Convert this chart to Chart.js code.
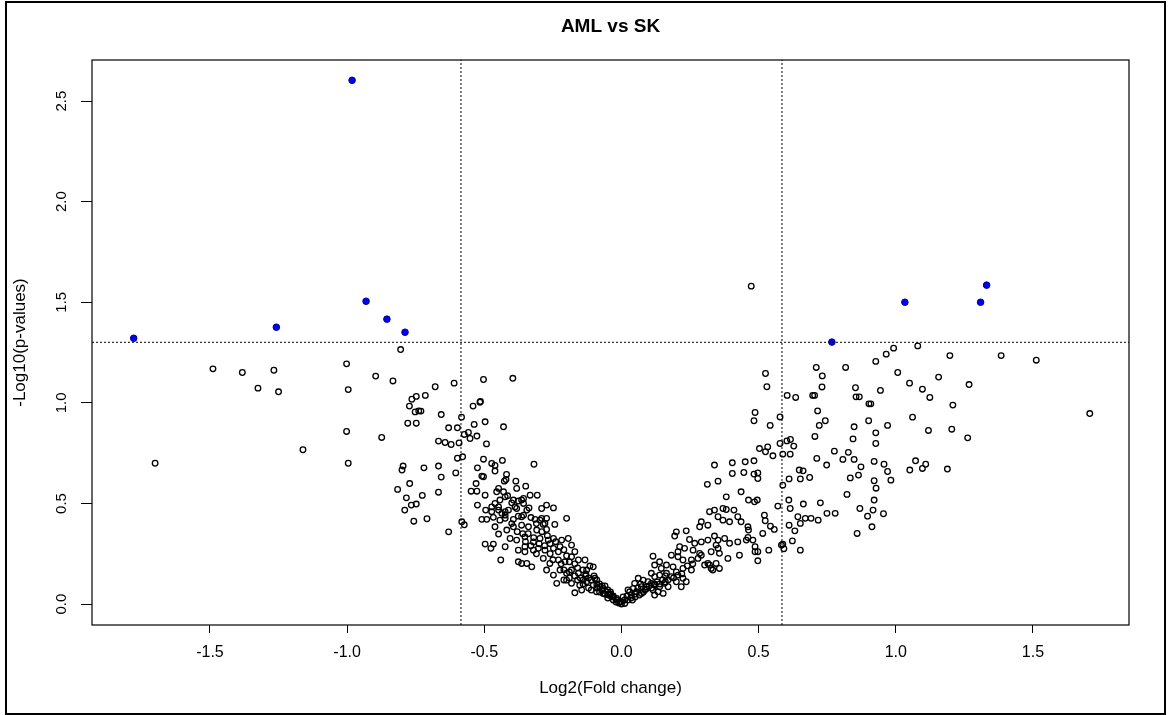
<!DOCTYPE html>
<html><head><meta charset="utf-8">
<script src="https://cdn.jsdelivr.net/npm/chart.js@4.4.1/dist/chart.umd.min.js"></script>
<style>
html,body{margin:0;padding:0;background:#fff;}
#wrap{position:relative;width:1171px;height:715px;overflow:hidden;background:#fff;}
#c{position:absolute;left:0;top:0;}
#frame{position:absolute;left:5px;top:1px;width:1161px;height:714px;border:2px solid #000;box-sizing:border-box;pointer-events:none;}
</style></head><body>
<div id="wrap"><canvas id="c" width="1171" height="715"></canvas><div id="frame"></div></div>
<script>
const chartTitle = 'AML vs SK';
const xTitle = 'Log2(Fold change)';
const yTitle = '-Log10(p-values)';
const xTicks = [-1.5, -1.0, -0.5, 0.0, 0.5, 1.0, 1.5];
const yTicks = [0.0, 0.5, 1.0, 1.5, 2.0, 2.5];
const xLimits = [-1.93, 1.85];
const yLimits = [-0.104, 2.704];
const fcCutoffs = [-0.585, 0.585];
const pCutoff = 1.301;

// significant genes (blue, filled)
const sigPoints = [
[-0.982,2.603],[-1.778,1.321],[-1.258,1.376],[-0.931,1.505],[-0.855,1.416],[-0.789,1.351],
[0.767,1.302],[1.033,1.500],[1.309,1.500],[1.331,1.585]
];

// non-significant genes (open circles), left side sparse
const nsLeftOuter = [
[-1.489,1.169],[-1.382,1.151],[-1.267,1.162],[-1.325,1.073],[-1.250,1.055],[-1.700,0.700],[-1.161,0.767],
[-1.002,1.194],[-0.996,1.066],[-1.002,0.858],[-0.996,0.700],[-0.896,1.133],[-0.833,1.109],[-0.805,1.265],
[-0.874,0.828],[-0.679,1.080],[-0.610,1.098],[-0.503,1.116],[-0.764,1.018],[-0.748,1.032],[-0.715,1.037],
[-0.773,0.984],[-0.752,0.955],[-0.739,0.960],[-0.731,0.959],[-0.657,0.942],[-0.779,0.899],[-0.748,0.899],
[-0.583,0.929],[-0.541,0.984],[-0.514,1.007],[-0.516,1.003],[-0.630,0.876],[-0.598,0.876],[-0.573,0.843],
[-0.558,0.853],[-0.537,0.893],[-0.552,0.823],[-0.527,0.835],[-0.497,0.906],[-0.667,0.810],[-0.643,0.803],
[-0.621,0.793],[-0.592,0.801],[-0.492,0.796],[-0.598,0.725],[-0.579,0.732],[-0.503,0.720],[-0.796,0.686],
[-0.800,0.666],[-0.720,0.677],[-0.667,0.686],[-0.657,0.631],[-0.604,0.652],[-0.525,0.677],[-0.461,0.661],
[-0.473,0.699],[-0.461,0.689],[-0.772,0.599],[-0.816,0.570],[-0.726,0.540],[-0.784,0.528],[-0.667,0.556],
[-0.766,0.492],[-0.748,0.497],[-0.790,0.467],[-0.757,0.412],[-0.709,0.424],[-0.630,0.359],[-0.582,0.409],
[-0.573,0.394],[-0.509,0.636],[-0.503,0.633],[-0.530,0.599],[-0.548,0.561],[-0.527,0.561],[-0.497,0.541],
[-0.525,0.492],[-0.495,0.467],[-0.509,0.421],[-0.491,0.421],[-0.461,0.500],[-0.473,0.483],[-0.497,0.298],
[-0.467,0.298],[-0.476,0.277],[-0.440,0.219],[-0.396,1.122],[-0.430,0.881],[-0.434,0.714]
];

// left arm of the V (dense)
const nsLeftInner = [
[-0.319,0.695],[-0.419,0.644],[-0.427,0.611],[-0.421,0.619],[-0.385,0.611],[-0.382,0.575],[-0.349,0.586],
[-0.448,0.575],[-0.430,0.558],[-0.424,0.533],[-0.415,0.538],[-0.400,0.503],[-0.376,0.512],[-0.357,0.525],
[-0.333,0.541],[-0.307,0.541],[-0.473,0.459],[-0.448,0.467],[-0.424,0.459],[-0.382,0.475],[-0.345,0.467],
[-0.337,0.478],[-0.291,0.475],[-0.273,0.492],[-0.248,0.478],[-0.467,0.431],[-0.443,0.417],[-0.424,0.426],
[-0.394,0.421],[-0.376,0.437],[-0.357,0.442],[-0.315,0.421],[-0.297,0.417],[-0.273,0.426],[-0.243,0.396],
[-0.200,0.426],[-0.461,0.384],[-0.448,0.348],[-0.418,0.368],[-0.394,0.384],[-0.364,0.392],[-0.339,0.384],
[-0.309,0.368],[-0.285,0.396],[-0.273,0.371],[-0.424,0.285],[-0.406,0.326],[-0.382,0.318],[-0.352,0.334],
[-0.321,0.309],[-0.297,0.326],[-0.267,0.318],[-0.248,0.326],[-0.218,0.318],[-0.194,0.326],[-0.376,0.268],
[-0.352,0.260],[-0.321,0.268],[-0.303,0.277],[-0.279,0.268],[-0.248,0.277],[-0.224,0.285],[-0.182,0.293],
[-0.170,0.260],[-0.376,0.210],[-0.345,0.202],[-0.327,0.185],[-0.285,0.227],[-0.261,0.202],[-0.230,0.219],
[-0.206,0.210],[-0.182,0.235],[-0.157,0.219],[-0.133,0.219],[-0.115,0.189],[-0.273,0.169],[-0.248,0.144],
[-0.224,0.169],[-0.200,0.153],[-0.182,0.169],[-0.157,0.153],[-0.127,0.169],[-0.103,0.185],[-0.097,0.128],
[-0.236,0.103],[-0.200,0.119],[-0.182,0.103],[-0.152,0.094],[-0.127,0.111],[-0.103,0.094],[-0.079,0.086],
[-0.170,0.056],[-0.145,0.070],[-0.091,0.061],[-0.067,0.053],[-0.048,0.045],[-0.036,0.036],[-0.018,0.028],
[0.000,0.011],[0.012,0.003],[0.024,0.020],[0.030,0.061],[-0.455,0.558],[-0.443,0.517],[-0.394,0.517],
[-0.364,0.517],[-0.448,0.483],[-0.436,0.451],[-0.412,0.467],[-0.388,0.483],[-0.357,0.500],[-0.424,0.442],
[-0.364,0.434],[-0.291,0.426],[-0.279,0.401],[-0.352,0.285],[-0.364,0.202],
[-0.210,0.120],[-0.190,0.130],[-0.160,0.120],[-0.140,0.100],[-0.120,0.080],[-0.110,0.070],[-0.090,0.080],
[-0.080,0.060],[-0.060,0.050],[-0.050,0.030],[-0.030,0.020],[-0.020,0.010],[-0.010,0.005],[-0.130,0.140],
[-0.110,0.120],[-0.090,0.100],[-0.070,0.070],[-0.060,0.090],[-0.040,0.050],
[-0.330,0.430],[-0.310,0.400],[-0.290,0.360],[-0.270,0.340],[-0.260,0.300],[-0.240,0.310],[-0.230,0.260],
[-0.210,0.270],[-0.200,0.240],[-0.190,0.210],[-0.170,0.200],[-0.160,0.180],[-0.140,0.170],[-0.130,0.150],
[-0.120,0.130],[-0.100,0.140],[-0.090,0.120],[-0.080,0.100],[-0.070,0.090],[-0.050,0.070],[-0.040,0.060],
[-0.030,0.040],[-0.340,0.350],[-0.320,0.330],[-0.300,0.300],[-0.280,0.290],[-0.260,0.250],[-0.250,0.220],
[-0.220,0.200],[-0.210,0.170],[-0.190,0.160],[-0.170,0.140],[-0.150,0.130],[-0.140,0.120],[-0.400,0.400],
[-0.380,0.360],[-0.360,0.350],[-0.350,0.310],[-0.330,0.290],[-0.310,0.250]
];

// right arm of the V (dense)
const nsRightInner = [
[0.339,0.691],[0.404,0.702],[0.451,0.707],[0.483,0.712],[0.404,0.649],[0.446,0.654],[0.483,0.646],
[0.497,0.624],[0.497,0.652],[0.313,0.595],[0.352,0.611],[0.382,0.533],[0.436,0.558],[0.463,0.517],
[0.485,0.508],[0.495,0.517],[0.321,0.459],[0.339,0.467],[0.370,0.475],[0.382,0.470],[0.410,0.467],
[0.352,0.434],[0.370,0.417],[0.394,0.409],[0.424,0.434],[0.436,0.409],[0.291,0.409],[0.285,0.384],
[0.315,0.392],[0.461,0.384],[0.463,0.368],[0.200,0.359],[0.236,0.364],[0.194,0.338],[0.248,0.321],
[0.267,0.302],[0.291,0.309],[0.315,0.318],[0.339,0.338],[0.352,0.318],[0.376,0.326],[0.394,0.302],
[0.424,0.309],[0.455,0.318],[0.461,0.331],[0.479,0.318],[0.487,0.285],[0.497,0.260],[0.212,0.285],
[0.230,0.277],[0.261,0.268],[0.285,0.252],[0.182,0.243],[0.206,0.235],[0.224,0.219],[0.255,0.219],
[0.279,0.227],[0.291,0.243],[0.327,0.260],[0.352,0.277],[0.357,0.252],[0.388,0.227],[0.430,0.243],
[0.345,0.293],[0.206,0.260],[0.115,0.238],[0.121,0.194],[0.139,0.210],[0.145,0.177],[0.164,0.194],
[0.188,0.185],[0.224,0.177],[0.255,0.169],[0.303,0.194],[0.315,0.202],[0.327,0.177],[0.345,0.202],
[0.357,0.177],[0.333,0.169],[0.321,0.194],[0.109,0.153],[0.139,0.144],[0.164,0.153],[0.182,0.136],
[0.206,0.144],[0.224,0.128],[0.200,0.111],[0.236,0.111],[0.218,0.086],[0.121,0.136],[0.061,0.128],
[0.079,0.119],[0.097,0.111],[0.109,0.103],[0.121,0.094],[0.139,0.086],[0.157,0.103],[0.170,0.086],
[0.091,0.086],[0.115,0.070],[0.133,0.061],[0.152,0.053],[0.121,0.045],[0.073,0.086],[0.048,0.103],
[0.043,0.078],[0.055,0.061],[0.073,0.053],[0.024,0.070],[0.036,0.045],[0.006,0.036],[0.012,0.020],
[-0.006,0.011],[0.000,0.000],[-0.018,0.020],[-0.030,0.036],[-0.043,0.045],[-0.055,0.061],[-0.067,0.078],
[0.020,0.040],[0.035,0.030],[0.050,0.050],[0.060,0.080],[0.070,0.100],[0.085,0.070],[0.100,0.090],
[0.130,0.110],[0.150,0.120],[0.160,0.140],
[0.040,0.020],[0.050,0.035],[0.065,0.045],[0.080,0.060],[0.090,0.075],[0.110,0.080],[0.120,0.100],
[0.140,0.100],[0.160,0.110],[0.170,0.120],[0.190,0.130],[0.200,0.160],[0.220,0.150],[0.240,0.190],
[0.260,0.200]
];

// right side sparse
const nsRightOuter = [
[0.473,1.580],[0.525,1.146],[0.530,1.080],[0.487,0.952],[0.483,0.911],[0.542,0.888],[0.578,0.930],
[0.604,1.037],[0.635,1.027],[0.710,1.176],[0.732,1.134],[0.731,1.079],[0.697,1.037],[0.704,1.037],
[0.817,1.176],[0.853,1.075],[0.855,1.030],[0.867,1.030],[0.902,0.995],[0.909,0.995],[0.927,1.206],
[0.965,1.242],[0.992,1.272],[0.944,1.062],[1.080,1.283],[1.007,1.151],[1.050,1.098],[1.097,1.068],
[1.124,1.027],[1.156,1.128],[1.197,1.235],[1.267,1.091],[1.208,0.989],[1.384,1.235],[1.512,1.212],
[1.707,0.947],[0.715,0.960],[0.743,0.911],[0.721,0.888],[0.705,0.833],[0.848,0.881],[0.844,0.821],
[0.901,0.911],[0.927,0.851],[0.927,0.798],[0.970,0.888],[1.061,0.929],[1.119,0.863],[1.204,0.869],
[1.262,0.826],[0.578,0.798],[0.603,0.811],[0.616,0.818],[0.628,0.785],[0.588,0.745],[0.615,0.745],
[0.503,0.773],[0.525,0.757],[0.552,0.737],[0.533,0.781],[0.712,0.724],[0.748,0.691],[0.776,0.760],
[0.827,0.754],[0.807,0.719],[0.848,0.719],[0.873,0.682],[0.957,0.695],[0.921,0.709],[0.970,0.659],
[0.982,0.616],[1.072,0.712],[1.109,0.695],[1.097,0.674],[1.051,0.666],[1.188,0.671],[0.834,0.627],
[0.864,0.641],[0.822,0.545],[0.921,0.613],[0.928,0.576],[0.921,0.517],[0.869,0.475],[0.897,0.437],
[0.917,0.467],[0.955,0.449],[0.859,0.351],[0.913,0.384],[0.611,0.622],[0.652,0.622],[0.686,0.629],
[0.662,0.662],[0.648,0.666],[0.588,0.591],[0.570,0.487],[0.610,0.517],[0.663,0.497],[0.615,0.475],
[0.725,0.503],[0.749,0.451],[0.779,0.451],[0.643,0.434],[0.670,0.426],[0.691,0.426],[0.717,0.417],
[0.652,0.401],[0.611,0.392],[0.632,0.364],[0.623,0.314],[0.588,0.297],[0.592,0.275],[0.652,0.268],
[0.537,0.268],[0.583,0.293],[0.521,0.442],[0.524,0.414],[0.543,0.387],[0.557,0.371],[0.515,0.351],
[0.497,0.215],[0.487,0.260]
];

const FONT = '"Liberation Sans", Arial, Helvetica, sans-serif';
const toXY = arr => arr.map(p => ({x: p[0], y: p[1]}));
const nsAll = [].concat(nsLeftOuter, nsLeftInner, nsRightInner, nsRightOuter);

const cutoffLines = fcCutoffs.map(c => ({
  data: [{x: c, y: yLimits[0]}, {x: c, y: yLimits[1]}],
  showLine: true, borderColor: '#000', borderWidth: 1, borderDash: [2, 2],
  pointRadius: 0, fill: false
}));
cutoffLines.push({
  data: [{x: xLimits[0], y: pCutoff}, {x: xLimits[1], y: pCutoff}],
  showLine: true, borderColor: '#000', borderWidth: 1, borderDash: [2, 2],
  pointRadius: 0, fill: false
});

const boxPlugin = {
  id: 'plotBox',
  afterDraw(chart) {
    const {ctx, chartArea: a} = chart;
    ctx.save();
    ctx.strokeStyle = '#000';
    ctx.lineWidth = 1.2;
    ctx.strokeRect(a.left, a.top, a.right - a.left, a.bottom - a.top);
    ctx.restore();
  }
};

new Chart(document.getElementById('c'), {
  type: 'scatter',
  data: {
    datasets: [
      ...cutoffLines,
      { data: toXY(sigPoints), pointRadius: 3.3, pointBorderWidth: 1,
        pointBackgroundColor: '#0000ff', pointBorderColor: '#00007a' },
      { data: toXY(nsAll), pointRadius: 2.8, pointBorderWidth: 1.3,
        pointBackgroundColor: 'rgba(0,0,0,0)', pointBorderColor: '#000' }
    ]
  },
  options: {
    responsive: false, animation: false, devicePixelRatio: 1, events: [],
    layout: {padding: {left: 0, right: 42, top: 0, bottom: 0}},
    plugins: {
      legend: {display: false},
      tooltip: {enabled: false},
      title: {display: true, text: chartTitle, fullSize: false, color: '#000',
        font: {family: FONT, size: 19, weight: 'bold'}, padding: {top: 15.6, bottom: 21.6}}
    },
    scales: {
      x: {
        type: 'linear', position: 'bottom', min: xLimits[0], max: xLimits[1],
        afterBuildTicks: s => { s.ticks = xTicks.map(v => ({value: v})); },
        afterFit: s => { s.height = 90; },
        grid: {display: true, drawOnChartArea: false, drawTicks: true, tickLength: 8, color: '#000', lineWidth: 1},
        border: {display: false},
        ticks: {font: {family: FONT, size: 16}, color: '#000', padding: 10, minRotation: 0, maxRotation: 0,
          autoSkip: false, callback: v => Number(v).toFixed(1)},
        title: {display: true, text: xTitle, color: '#000', font: {family: FONT, size: 17}, padding: {top: 0, bottom: 16.8}}
      },
      y: {
        type: 'linear', position: 'left', min: yLimits[0], max: yLimits[1],
        afterBuildTicks: s => { s.ticks = yTicks.map(v => ({value: v})); },
        afterFit: s => { s.width = 92; },
        grid: {display: true, drawOnChartArea: false, drawTicks: true, tickLength: 11, color: '#000', lineWidth: 1},
        border: {display: false},
        ticks: {font: {family: FONT, size: 15}, color: '#000', padding: 9, minRotation: 90, maxRotation: 90,
          crossAlign: 'center', autoSkip: false, callback: v => Number(v).toFixed(1)},
        title: {display: true, text: yTitle, color: '#000', font: {family: FONT, size: 17}, padding: {top: 9.8, bottom: 0}}
      }
    }
  },
  plugins: [boxPlugin]
});
</script>
</body></html>
